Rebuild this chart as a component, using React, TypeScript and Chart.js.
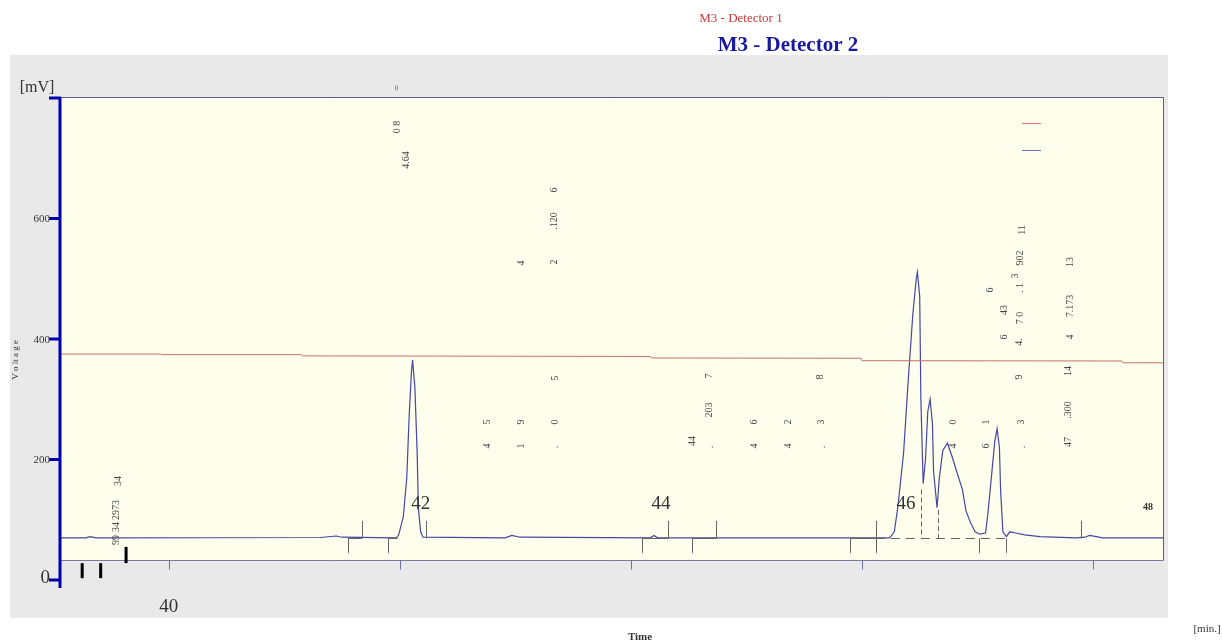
import React, { useEffect, useRef } from "react";
import { Chart, registerables } from "chart.js";

Chart.register(...registerables);

// ---- Detector 2 (blue) trace: time [min] / signal [mV]
const det2Time = [
  39.06, 39.28, 39.32, 39.37, 41.31, 41.45, 41.5, 41.97, 41.99, 42.03, 42.06, 42.08, 42.1, 42.11,
  42.13, 42.15, 42.16, 42.18, 42.2, 42.91, 42.97, 43.04, 44.17, 44.2, 44.23, 46.24, 46.28, 46.31,
  46.36, 46.4, 46.44, 46.47, 46.48, 46.5, 46.51, 46.53, 46.55, 46.57, 46.59, 46.61, 46.62, 46.65,
  46.67, 46.7, 46.74, 46.78, 46.82, 46.87, 46.9, 46.94, 46.98, 47.02, 47.07, 47.09, 47.12, 47.15,
  47.17, 47.19, 47.2, 47.22, 47.25, 47.28, 47.33, 47.41, 47.54, 47.85, 47.93, 47.97, 48.03, 48.08,
  48.61,
];
const det2Mv = [
  70, 70, 72, 70, 70.5, 73, 71, 70, 75, 105, 170, 270, 345, 365,
  320, 210, 120, 80, 71, 70, 74, 71, 70, 74, 70, 70, 80, 120,
  210, 330, 440, 500, 511, 470, 300, 160, 200, 280, 300, 260, 180, 120,
  170, 215, 227, 205, 180, 150, 115, 95, 80, 76, 78, 110, 170, 230,
  251, 220, 150, 80, 72, 80, 78, 75, 72, 70, 71, 74, 72, 70,
  70,
];

// ---- Detector 1 (red) trace
const det1Time = [39.06, 39.93, 39.94, 41.15, 41.16, 44.17, 44.18, 45.99, 46.0, 48.25, 48.26, 48.61];
const det1Mv = [375, 375, 374, 374, 372, 371, 368.5, 368, 364, 363.5, 360.5, 360.5];

// ---- axes
const xTickValues = [40, 42, 44, 46, 48];
const xTickLabels = ["40", "42", "44", "46", "48"];
const yTickValues = [0, 200, 400, 600, 800];
const yTickLabels = ["0", "200", "400", "600", ""];

// ---- integration marks
const baselineMv = 70;
const markUpTimes = [41.67, 42.23, 44.32, 44.74, 46.12, 47.9];
const markDownTimes = [41.55, 41.9, 44.1, 44.53, 45.9, 46.12, 47.01, 47.25];
const dropTimes = [46.51, 46.66];
const dropTops = [150, 116];
const baseSolidStart = [41.55, 41.9, 44.1, 44.53, 45.9];
const baseSolidEnd = [41.67, 41.98, 44.32, 44.74, 46.12];
const baseDashStart = [46.12];
const baseDashEnd = [47.25];
const eventTimes = [39.25, 39.41, 39.63];
const eventLow = [3, 3, 28];
const eventHigh = [28, 28, 55];

// ---- peak annotations (rotated text)
const annTimes = [
  41.98, 41.98, 42.06, 43.05, 43.34, 43.34, 43.34, 42.76, 42.76, 43.05, 43.05, 43.35, 43.35, 43.35,
  44.53, 44.69, 44.68, 44.68, 45.07, 45.07, 45.36, 45.36, 45.66, 45.65, 45.64, 46.79, 46.79, 47.08,
  47.08, 47.39, 47.38, 47.36, 47.79, 47.79, 47.79, 47.11, 47.23, 47.23, 47.36, 47.37, 47.37, 47.33,
  47.37, 47.39, 47.8, 47.8, 47.8, 39.56, 39.55, 39.55, 39.55,
];
const annMv = [
  816.6, 751.9, 697.1, 526.1, 527.8, 595.9, 647.3, 222.4, 262.2, 222.4, 262.2, 220.7, 262.2, 335.3,
  230.7, 220.7, 282.2, 338.6, 222.4, 262.2, 222.4, 262.2, 220.7, 262.2, 336.9, 222.4, 262.2, 222.4,
  262.2, 220.7, 262.2, 336.9, 229.0, 282.2, 346.9, 481.3, 403.3, 448.1, 395.0, 434.9, 484.6, 504.6,
  534.4, 580.9, 403.3, 454.8, 527.8, 164.3, 116.2, 88.0, 66.4,
];
const annTexts = [
  "=", "0 8", "4.64", "4", "2", ".120", "6", "4", "5", "1", "9", ".", "0", "5",
  "44", ".", "203", "7", "4", "6", "4", "2", ".", "3", "8", "4", "0", "6",
  "1", ".", "3", "9", "47", ".300", "14", "6", "6", "43", "4.", "7 0", ". 1", "3",
  "902", "11", "4", "7.173", "13", "34", "2973", "34", "99",
];

// layout-only constants
const PLOT_FLOOR_MV = 33.2;
const xLabelDx = [0, 21, 30, 44, 55];
const SERIF = '"Liberation Serif", "DejaVu Serif", serif';

const overlay = {
  id: "chromOverlay",
  beforeDraw(chart: any) {
    const { ctx, width, height } = chart;
    const x = chart.scales.x;
    const y = chart.scales.y;
    ctx.save();
    ctx.fillStyle = "#ffffff";
    ctx.fillRect(0, 0, width, height);
    ctx.fillStyle = "#e9e9e9";
    ctx.fillRect(10, 55, 1158, 563);
    const floorY = y.getPixelForValue(PLOT_FLOOR_MV);
    ctx.fillStyle = "rgb(254,254,237)";
    ctx.fillRect(x.left, y.top, x.right - x.left, floorY - y.top);
    ctx.restore();
  },
  afterDatasetsDraw(chart: any) {
    const { ctx } = chart;
    const x = chart.scales.x;
    const y = chart.scales.y;
    const px = (t: number) => x.getPixelForValue(t);
    const py = (v: number) => y.getPixelForValue(v);
    const floorY = Math.round(py(PLOT_FLOOR_MV)) + 0.5;
    ctx.save();

    // plot frame
    ctx.strokeStyle = "rgb(90,90,150)";
    ctx.lineWidth = 1;
    ctx.beginPath();
    ctx.moveTo(x.left, y.top + 0.5);
    ctx.lineTo(x.right + 0.5, y.top + 0.5);
    ctx.lineTo(x.right + 0.5, floorY);
    ctx.stroke();
    ctx.strokeStyle = "rgb(120,120,160)";
    ctx.beginPath();
    ctx.moveTo(x.left, floorY);
    ctx.lineTo(x.right, floorY);
    ctx.stroke();

    // x ticks
    ctx.strokeStyle = "rgb(110,110,160)";
    xTickValues.forEach((t) => {
      const X = Math.round(px(t)) + 0.5;
      ctx.beginPath();
      ctx.moveTo(X, floorY);
      ctx.lineTo(X, floorY + 9);
      ctx.stroke();
    });

    // integration baseline segments
    ctx.strokeStyle = "rgb(100,100,100)";
    ctx.lineWidth = 1;
    const bY = Math.round(py(baselineMv)) + 0.5;
    baseSolidStart.forEach((s, i) => {
      ctx.beginPath();
      ctx.moveTo(px(s), bY);
      ctx.lineTo(px(baseSolidEnd[i]), bY);
      ctx.stroke();
    });
    ctx.setLineDash([9, 6]);
    baseDashStart.forEach((s, i) => {
      ctx.beginPath();
      ctx.moveTo(px(s), bY);
      ctx.lineTo(px(baseDashEnd[i]), bY);
      ctx.stroke();
    });
    ctx.setLineDash([]);
    markUpTimes.forEach((t) => {
      const X = Math.round(px(t)) + 0.5;
      ctx.beginPath();
      ctx.moveTo(X, bY);
      ctx.lineTo(X, py(98));
      ctx.stroke();
    });
    markDownTimes.forEach((t) => {
      const X = Math.round(px(t)) + 0.5;
      ctx.beginPath();
      ctx.moveTo(X, bY);
      ctx.lineTo(X, py(45));
      ctx.stroke();
    });
    ctx.setLineDash([5, 3]);
    dropTimes.forEach((t, i) => {
      const X = Math.round(px(t)) + 0.5;
      ctx.beginPath();
      ctx.moveTo(X, py(dropTops[i]));
      ctx.lineTo(X, bY);
      ctx.stroke();
    });
    ctx.setLineDash([]);

    // event ticks (thick black)
    ctx.strokeStyle = "#000";
    ctx.lineWidth = 3;
    eventTimes.forEach((t, i) => {
      ctx.beginPath();
      ctx.moveTo(px(t), py(eventLow[i]));
      ctx.lineTo(px(t), py(eventHigh[i]));
      ctx.stroke();
    });

    // y axis
    ctx.strokeStyle = "#0000b0";
    ctx.lineWidth = 3;
    ctx.beginPath();
    ctx.moveTo(x.left, y.top);
    ctx.lineTo(x.left, y.bottom);
    ctx.stroke();
    yTickValues.forEach((v, i) => {
      const Y = py(v);
      ctx.beginPath();
      ctx.moveTo(x.left - 11, Y);
      ctx.lineTo(x.left + 1, Y);
      ctx.stroke();
      const lab = yTickLabels[i];
      if (lab) {
        ctx.fillStyle = "#333";
        ctx.textAlign = "right";
        ctx.textBaseline = "middle";
        ctx.font = (lab === "0" ? "19px " : "11px ") + SERIF;
        ctx.fillText(lab, x.left - 10, Y + (lab === "0" ? -2 : 1));
      }
    });

    // x tick labels
    ctx.fillStyle = "#333";
    ctx.textAlign = "center";
    ctx.textBaseline = "middle";
    xTickValues.forEach((t, i) => {
      const X = px(t) + xLabelDx[i];
      if (i === 0) {
        ctx.font = "19px " + SERIF;
        ctx.fillText(xTickLabels[i], X, 607);
      } else if (i === xTickValues.length - 1) {
        ctx.font = "bold 10px " + SERIF;
        ctx.fillText(xTickLabels[i], X, 507);
      } else {
        ctx.font = "19px " + SERIF;
        ctx.fillText(xTickLabels[i], X, 504);
      }
    });

    // peak annotations
    ctx.fillStyle = "#444";
    ctx.font = "10px " + SERIF;
    annTexts.forEach((txt, i) => {
      ctx.save();
      ctx.translate(px(annTimes[i]), py(annMv[i]));
      ctx.rotate(-Math.PI / 2);
      ctx.textAlign = "center";
      ctx.textBaseline = "middle";
      ctx.fillText(txt, 0, 0);
      ctx.restore();
    });

    // legend swatches
    ctx.lineWidth = 1;
    ctx.strokeStyle = "rgb(225,120,110)";
    ctx.beginPath();
    ctx.moveTo(1022, 123.5);
    ctx.lineTo(1041, 123.5);
    ctx.stroke();
    ctx.strokeStyle = "rgb(110,110,210)";
    ctx.beginPath();
    ctx.moveTo(1022, 150.5);
    ctx.lineTo(1041, 150.5);
    ctx.stroke();

    // titles and axis names
    ctx.textAlign = "center";
    ctx.textBaseline = "middle";
    ctx.fillStyle = "rgb(205,55,55)";
    ctx.font = "13px " + SERIF;
    ctx.fillText("M3 - Detector 1", 741, 19);
    ctx.fillStyle = "rgb(25,25,160)";
    ctx.font = "bold 21px " + SERIF;
    ctx.fillText("M3 - Detector 2", 788, 46);
    ctx.fillStyle = "#333";
    ctx.font = "16px " + SERIF;
    ctx.fillText("[mV]", 37, 88);
    ctx.font = "bold 11px " + SERIF;
    ctx.fillText("Time", 640, 637);
    ctx.font = "11px " + SERIF;
    ctx.fillText("[min.]", 1207, 629);
    ctx.save();
    ctx.translate(16, 360);
    ctx.rotate(-Math.PI / 2);
    ctx.font = "9px " + SERIF;
    ctx.fillText("V o lt a g e", 0, 0);
    ctx.restore();

    ctx.restore();
  },
};

export default function App() {
  const ref = useRef<HTMLCanvasElement>(null);
  useEffect(() => {
    document.body.style.margin = "0";
    if (!ref.current) return;
    const chart = new Chart(ref.current, {
      type: "line",
      data: {
        datasets: [
          {
            label: "M3 - Detector 1",
            data: det1Time.map((t, i) => ({ x: t, y: det1Mv[i] })),
            borderColor: "rgb(195,115,105)",
            borderWidth: 1,
            pointRadius: 0,
            tension: 0,
          },
          {
            label: "M3 - Detector 2",
            data: det2Time.map((t, i) => ({ x: t, y: det2Mv[i] })),
            borderColor: "rgb(70,70,165)",
            borderWidth: 1.2,
            pointRadius: 0,
            tension: 0,
          },
        ],
      },
      options: {
        animation: false,
        responsive: false,
        devicePixelRatio: 1,
        layout: { padding: { left: 60, right: 59, top: 97, bottom: 53 } },
        plugins: { legend: { display: false }, title: { display: false }, tooltip: { enabled: false } },
        scales: {
          x: { type: "linear", min: 39.058, max: 48.606, display: false },
          y: { type: "linear", min: -13.3, max: 801.7, display: false },
        },
      },
      plugins: [overlay],
    });
    return () => chart.destroy();
  }, []);
  return (
    <div style={{ position: "absolute", left: 0, top: 0, width: 1222, height: 641 }}>
      <canvas ref={ref} width={1222} height={641} style={{ display: "block" }} />
    </div>
  );
}
